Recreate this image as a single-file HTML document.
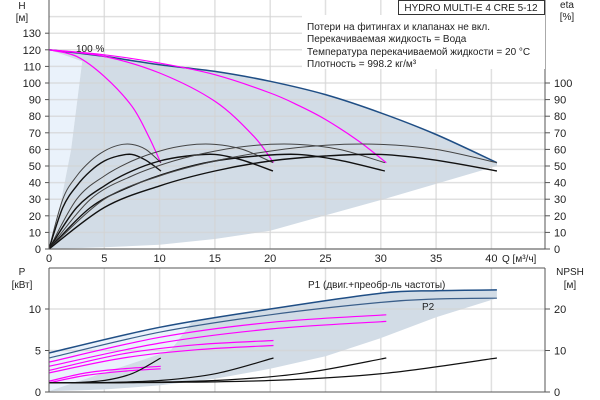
<!DOCTYPE html>
<html><head><meta charset="utf-8">
<style>
body{margin:0;background:#fff;}
svg{display:block;font-family:"Liberation Sans",sans-serif;font-size:10px;}
</style></head>
<body>
<svg id="c" width="600" height="400" viewBox="0 0 600 400"></svg>
<script>
// ---- data ----
const qTicks=[0,5,10,15,20,25,30,35,40];
const hTicks=[0,10,20,30,40,50,60,70,80,90,100,110,120,130];
const etaTicks=[0,10,20,30,40,50,60,70,80,90,100];
const pTicks=[0,5,10];
const npshTicks=[0,10,20];
const speeds=[0.25,0.5,0.75];
// 100% head curve
const hFullQ=[0,5,10,15,20,25,30,35,40.5];
const hFullH=[120,116,111,107,101,93,82,69,52];
// reduced speed head curves (magenta)
const hA_Q=[0,2.5,5,7.5,9,10.1];
const hA_H=[120,116,104,86,68,52];
const hB_Q=[0,5,10,15,18.5,20.3];
const hB_H=[120,116,106,89,68,52];
const hC_Q=[0,5,10,15,20,22.7,25,28,30.5];
const hC_H=[120,117,112,105,94,86,78,65,52];
// efficiency curves (base, 100% speed)
const etaQ=[0,5,10,15,20,25,30,35,40.5];
const eta1=[0,30,44,53,59,62.5,63,60,52];
const eta2=[0,25,38,47,53,56,57,53.5,47];
// shaded area lower boundary (top chart)
const areaQ=[0,5,10,15,20,22.7,30,40.5];
const areaH=[0,1,2.5,6,11,16,29.5,50];
// power curves
const p1Q=[0,10,20,30,35,40.5];
const p1=[4.7,7.8,10,11.9,12.2,12.3];
const p2=[4.1,7.2,9.3,10.8,11.2,11.3];
const magQfrac=[0,0.33,0.66,1];
const magEnd=[10.1,20.3,30.5];
const magUp=[[1.3,2.3,2.8,3.1],[2.6,4.6,5.7,6.2],[3.6,6.6,8.4,9.3]];
const magLo=[[1.1,2.0,2.5,2.8],[2.3,4.1,5.1,5.6],[3.1,5.9,7.6,8.5]];
// NPSH curves
const npshEnd=[10.1,20.3,30.5,40.5];
const npshFrac=[0,0.25,0.5,0.75,1];
const npshVal=[2.2,2.3,2.8,4.5,8.2];
const pAreaQ=[0,5,10,15,20,25,30,35,40.5];
const pAreaLo=[0.1,0.3,0.8,1.6,2.8,4.3,6.5,9,11.3];

// ---- scales ----
const X=q=>49+q*11.06;
const YH=h=>249-h*1.66;
const YP=p=>392-p*8.3;
const YN=n=>392-n*4.15;
const svg=document.getElementById('c');
const NS='http://www.w3.org/2000/svg';
function mk(tag,attrs,parent){const e=document.createElementNS(NS,tag);for(const k in attrs)e.setAttribute(k,attrs[k]);(parent||svg).appendChild(e);return e;}
function txt(s,x,y,anchor,name,size){const t=mk('text',{x:x,y:y,'text-anchor':anchor||'start',fill:'#222','font-size':size||10});t.textContent=s;


return t;}
function pathFrom(qs,vs,xf,yf){return qs.map((q,i)=>(i?'L':'M')+xf(q).toFixed(1)+','+yf(vs[i]).toFixed(1)).join(' ');}
function smooth(qs,vs,xf,yf){const p=qs.map((q,i)=>[xf(q),yf(vs[i])]);let d='M'+p[0][0]+','+p[0][1];
for(let i=0;i<p.length-1;i++){const p0=p[i-1]||p[i],p1=p[i],p2=p[i+1],p3=p[i+2]||p2;
const c1=[p1[0]+(p2[0]-p0[0])/6,p1[1]+(p2[1]-p0[1])/6],c2=[p2[0]-(p3[0]-p1[0])/6,p2[1]-(p3[1]-p1[1])/6];
d+=' C'+c1[0].toFixed(1)+','+c1[1].toFixed(1)+' '+c2[0].toFixed(1)+','+c2[1].toFixed(1)+' '+p2[0].toFixed(1)+','+p2[1].toFixed(1);}return d;}
function line(d,stroke,w,name){const e=mk('path',{d:d,fill:'none',stroke:stroke,'stroke-width':w});


return e;}

// ---- top chart shading ----
const lightA=mk('path',{d:'M49,249 L49,'+YH(120)+' L'+X(3)+','+YH(113)+' L'+X(2)+','+YH(60)+' L'+X(0.3)+','+YH(2)+' Z',fill:'#eaf2fb'});


let topArea=smooth(hFullQ,hFullH,X,YH);
const rq=areaQ.slice().reverse(),rh=areaH.slice().reverse();
topArea+=' L'+X(40.5)+','+YH(50)+' '+pathFrom(rq,rh,X,YH).replace('M','L')+' L'+X(0.3)+','+YH(2)+' L'+X(2)+','+YH(60)+' L'+X(3)+','+YH(113)+' Z';
const ta=mk('path',{d:topArea,fill:'#d2dce6'});



// grid top
hTicks.concat([140]).forEach(h=>{const g=mk('line',{x1:49,x2:545,y1:YH(h),y2:YH(h),stroke:'#d4d4d4','stroke-width':1.5,opacity:0.7});

});
qTicks.forEach(q=>{if(q===0)return;const g=mk('line',{x1:X(q),x2:X(q),y1:0,y2:249,stroke:'#d4d4d4','stroke-width':1.5,opacity:0.7});

});
qTicks.forEach(q=>{if(q===0)return;const g=mk('line',{x1:X(q),x2:X(q),y1:268,y2:392,stroke:'#d4d4d4','stroke-width':1.5,opacity:0.7});

});

// top curves
line(smooth(hFullQ,hFullH,X,YH),'#1f4e85',1.5,'head-curve-100');
line(smooth(hA_Q,hA_H,X,YH),'#ff00ff',1.2,'head-curve-25');
line(smooth(hB_Q,hB_H,X,YH),'#ff00ff',1.2,'head-curve-50');
line(smooth(hC_Q,hC_H,X,YH),'#ff00ff',1.2,'head-curve-75');
speeds.concat([1]).forEach(s=>{
  const qs=etaQ.map(q=>q*s);
  line(smooth(qs,eta1,X,YH),'#444',1,'eta-pump-curve');
  line(smooth(qs,eta2,X,YH),'#111',1.4,'eta-total-curve');
});
// bottom shading
let bA=smooth(p1Q,p1,X,YP);
bA+=' '+pathFrom(pAreaQ.slice().reverse(),pAreaLo.slice().reverse(),X,YP).replace('M','L')+' Z';
const ba=mk('path',{d:bA,fill:'#d2dce6'});


const bl=mk('path',{d:'M'+X(0)+','+YP(4.7)+' L'+X(13)+','+YP(8.6)+' L'+X(11)+','+YP(5)+' L'+X(0)+','+YP(0.1)+' Z',fill:'#eaf2fb'});


for(let y=5;y<=10;y+=5){const g=mk('line',{x1:49,x2:545,y1:YP(y),y2:YP(y),stroke:'#d4d4d4','stroke-width':1.5,opacity:0.7});

}
line(smooth(p1Q,p1,X,YP),'#1f4e85',1.5,'p1-curve');
line(smooth(p1Q,p2,X,YP),'#3b5f8a',1.2,'p2-curve');
magEnd.forEach((e,i)=>{const qs=magQfrac.map(f=>f*e);
  line(smooth(qs,magUp[i],X,YP),'#ff00ff',1.2,'p1-reduced-curve');
  line(smooth(qs,magLo[i],X,YP),'#ff00ff',1.2,'p2-reduced-curve');});
npshEnd.forEach(e=>{const qs=npshFrac.map(f=>f*e);line(smooth(qs,npshVal,X,YN),'#111',1.2,'npsh-curve');});

// axes
[[49,0,49,249],[49,249,545,249],[545,0,545,249],[49,268,49,392],[49,392,545,392],[545,268,545,392],[49,268,545,268]].forEach(a=>{
 const l=mk('line',{x1:a[0],y1:a[1],x2:a[2],y2:a[3],stroke:'#555','stroke-width':1});
 
 });
hTicks.forEach(h=>{mk('line',{x1:45,x2:49,y1:YH(h),y2:YH(h),stroke:'#555'});txt(String(h),41,YH(h)+4,'end','h-tick-label',11);});
etaTicks.forEach(h=>{mk('line',{x1:545,x2:550,y1:YH(h),y2:YH(h),stroke:'#555'});txt(String(h),554,YH(h)+4,'start','eta-tick-label',11);});
qTicks.forEach(q=>txt(String(q),X(q),262,'middle','q-tick-label',11));
pTicks.forEach(p=>{mk('line',{x1:45,x2:49,y1:YP(p),y2:YP(p),stroke:'#555'});txt(String(p),41,YP(p)+4,'end','p-tick-label',11);});
npshTicks.forEach(n=>{mk('line',{x1:545,x2:550,y1:YN(n),y2:YN(n),stroke:'#555'});txt(String(n),554,YN(n)+4,'start','npsh-tick-label',11);});
txt('Q [м³/ч]',502,262,'start','x-axis-title',10);
txt('H',22,9,'middle','h-axis-title',10);
txt('[м]',22,21,'middle','h-axis-unit',10);
txt('eta',567,8,'middle','eta-axis-title',10);
txt('[%]',567,20,'middle','eta-axis-unit',10);
txt('P',22,275,'middle','p-axis-title',10);
txt('[кВт]',22,288,'middle','p-axis-unit',10);
txt('NPSH',570,275,'middle','npsh-axis-title',10);
txt('[м]',570,288,'middle','npsh-axis-unit',10);
txt('100 %',76,52,'start','speed-label-100',10);
txt('P1 (двиг.+преобр-ль частоты)',308,288,'start','p1-label',10);
txt('P2',422,310,'start','p2-label',10);
// info box
const bx=mk('rect',{x:398.5,y:0.5,width:146,height:14,fill:'#fff',stroke:'#333'});


txt('HYDRO MULTI-E 4 CRE 5-12',471,11,'middle','chart-title',10);
const ib=mk('rect',{x:302,y:15,width:243,height:54,fill:'#fff'});


txt('Потери на фитингах и клапанах не вкл.',307,30,'start','info-line-1',10);
txt('Перекачиваемая жидкость = Вода',307,42,'start','info-line-2',10);
txt('Температура перекачиваемой жидкости = 20 °C',307,55,'start','info-line-3',10);
txt('Плотность = 998.2 кг/м³',307,67,'start','info-line-4',10);
</script>
</body></html>
